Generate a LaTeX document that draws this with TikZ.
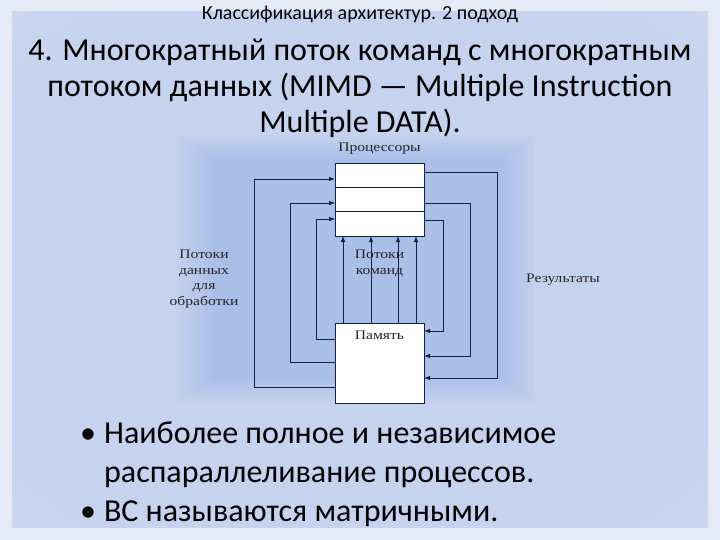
\documentclass[tikz,border=0pt]{standalone}
\usepackage{fontspec}
\setmainfont{Carlito}
\newfontfamily\diagfont[FakeStretch=1.2]{Liberation Serif}
\usetikzlibrary{positioning, arrows.meta}
\definecolor{slideedge}{RGB}{229,234,246}
\definecolor{slidemid}{RGB}{197,211,238}
\definecolor{diagbg}{RGB}{170,191,232}
\definecolor{linenavy}{RGB}{22,32,64}
\pgfdeclareradialshading{slideglow}{\pgfpoint{0bp}{0bp}}{color(0bp)=(slidemid); color(30bp)=(slidemid); color(48bp)=(slideedge!60!slidemid); color(60bp)=(slideedge)}

\begin{document}
\begin{tikzpicture}[x=1pt, y=1pt,
    cell/.style={draw=linenavy, fill=white, line width=0.8pt, minimum width=89pt,
        minimum height=24.33pt, inner sep=0pt, outer sep=0pt},
    memory/.style={cell, minimum height=80pt},
    flow/.style={draw=linenavy, line width=0.9pt, -{Latex[length=6pt, width=4.5pt]}},
    thinflow/.style={flow, line width=0.5pt},
    lbl/.style={font=\diagfont\fontsize{13}{15.5}\selectfont, text=black!85, align=center, inner sep=1pt}]
    \useasboundingbox (0,0) rectangle (720,540);

    % Slide background
    \fill[slideedge] (0,0) rectangle (720,540);
    \shade[shading=slideglow] (12,12) rectangle (708,528);

    % Diagram backdrop
    \foreach \i in {0,...,9}
        \pgfmathsetmacro{\p}{15+9.4*\i}
        \fill[diagbg!\p!slidemid] ({177+4*\i},{138+2.6*\i}) rectangle ({535-3.5*\i},{405-2.6*\i});

    % Headings
    \node[font=\fontsize{20}{22}\selectfont] (subtitle) at (360,526) {Классификация архитектур. 2 подход};
    \node[align=center, font=\fontsize{32}{36}\selectfont] (title) at (360,452)
        {4. Многократный поток команд с многократным\\
         потоком данных (MIMD — Multiple Instruction\\
         Multiple DATA).};

    % Processors and memory
    \node[cell] (p1) at (379.5,364.8) {};
    \node[cell, below=0pt of p1] (p2) {};
    \node[cell, below=0pt of p2] (p3) {};
    \node[memory] (mem) at (379.5,177) {};

    % Data streams
    \draw[flow] ([yshift=16pt]mem.south west) -- ++(-81,0) |- ([yshift=-3.8pt]p1.west);
    \draw[thinflow] ([yshift=41pt]mem.south west) -- ++(-45,0) |- ([yshift=-3.5pt]p2.west);
    \draw[thinflow] ([yshift=64pt]mem.south west) -- ++(-19,0) |- ([yshift=4.8pt]p3.west);

    % Results
    \draw[flow] ([yshift=3.2pt]p1.east) -- ++(73,0) |- ([yshift=25pt]mem.south east);
    \draw[flow] ([yshift=-3.5pt]p2.east) -- ++(46,0) |- ([yshift=47pt]mem.south east);
    \draw[flow] ([yshift=3.8pt]p3.east) -- ++(19,0) |- ([yshift=72pt]mem.south east);

    % Instruction streams
    \draw[thinflow] ([xshift=-36.5pt]mem.north) -- ([xshift=-36.5pt]p3.south);
    \foreach \dx in {-8.5, 18.5, 36.5}
        \draw[flow] ([xshift=\dx pt]mem.north) -- ([xshift=\dx pt]p3.south);

    % Labels
    \node[lbl, above=8pt of p1] (proclbl) {Процессоры};
    \node[lbl, anchor=north] (memlbl) at ([yshift=-7pt]mem.north) {Память};
    \node[lbl] (cmdlbl) at (379.5,276.5) {Потоки\\команд};
    \node[lbl] (datalbl) at (204,261) {Потоки\\данных\\для\\обработки};
    \node[lbl] (reslbl) at (563,260) {Результаты};

    % Bullets
    \node[anchor=north west, font=\fontsize{32}{39}\selectfont, inner sep=0pt] (bullets) at (80,124)
        {\begin{tabular}{@{}l@{\hspace{8pt}}l@{}}
         • & Наиболее полное и независимое\\
           & распараллеливание процессов.\\
         • & ВС называются матричными.
         \end{tabular}};
\end{tikzpicture}
\end{document}
